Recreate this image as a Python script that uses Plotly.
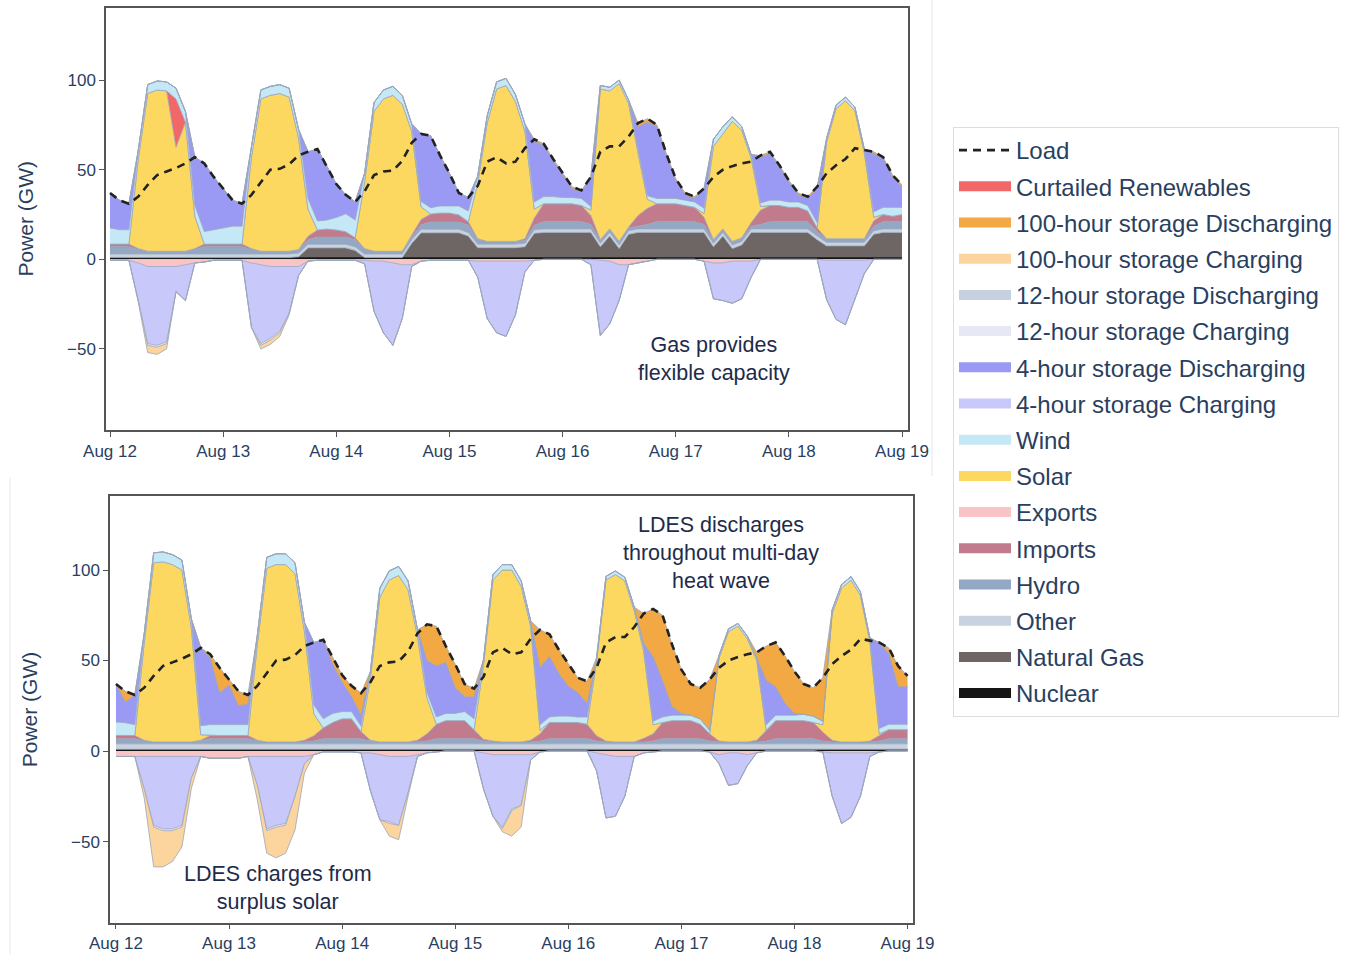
import plotly.graph_objects as go
import pandas as pd

# ---------------- time grid (2-hour steps, Aug 12 00:00 -> Aug 19 00:00) ----------------
TIMES = pd.date_range("2022-08-12 00:00", periods=85, freq="2h")

def days(*rows):
    out = []
    for r in rows:
        out.extend(r)
    return out

# ---------------- shared load (GW) ----------------
LOAD = days(
    [37, 33, 31, 35, 41.5, 47, 49, 51, 53.5, 57, 53.5, 46],
    [39.5, 33, 31, 36, 43, 50, 50.5, 53, 58, 60, 61.5, 52],
    [42, 36, 32, 38, 47, 49, 49.5, 55, 65, 70, 69, 58],
    [48, 37, 34.5, 41, 54.5, 57, 53.5, 54.5, 62, 67, 64.5, 56],
    [48, 40.5, 38.5, 46, 60, 63, 63, 68.5, 76, 78.5, 75, 59],
    [45, 37, 35, 39.5, 46, 50, 52, 53.5, 54.5, 58, 60, 52.5],
    [44, 37, 35, 40.5, 48, 52.5, 56, 62, 61, 60, 57, 47],
    [41.5])

Z12 = [0, 0, 0, 0, 0, 0, 0, 0, 0, 0, 0, 0]

# ---------------- top panel (with gas) ----------------
NUCLEAR_A = days(*[[1, 1, 1, 1, 1, 1, 1, 1, 1, 1, 1, 1]] * 7, [1])
GAS_A = days(
    [0, 0, 0, 0, 0, 0, 0, 0, 0, 0, 0, 0],
    [0, 0, 0, 0, 0, 0, 0, 0, 0.5, 5.4, 5.4, 5.4],
    [5.4, 5.4, 4, 0, 0, 0, 0, 0, 8, 13.8, 13.8, 13.8],
    [13.8, 13.8, 12, 5.5, 5.5, 5.5, 5.5, 5.5, 6, 13.5, 14, 14],
    [14, 14, 14, 14, 6, 12, 5, 13, 14, 14, 14, 14],
    [14, 14, 14, 14, 6, 12, 5, 7, 14, 14, 14, 14],
    [14, 14, 14, 10, 6.5, 6.5, 6.5, 6.5, 6.5, 13, 14, 14],
    [14])
OTHER_A = days(*[[2, 2, 2, 2, 2, 2, 2, 2, 2, 2, 2, 2]] * 7, [2])
HYDRO_A = days(*[[4, 4, 4, 2.5, 1.5, 1.5, 1.5, 1.5, 1.5, 2.5, 4, 4]] * 7, [4])
IMPORTS_A = days(
    [1.5, 1.5, 1.5, 0.5, 0, 0, 0, 0, 0, 0.5, 1.5, 1.5],
    [1.5, 1.5, 1.5, 0.5, 0, 0, 0, 0, 0.5, 2, 4, 4.5],
    [4, 3, 1, 0.5, 0, 0, 0, 0, 1, 3, 4.5, 5],
    [5, 4, 2, 0.5, 0, 0, 0, 0, 1, 4, 10, 10],
    [10, 10, 9, 5, 0.5, 0.5, 0.5, 0.5, 6, 9, 10, 10],
    [10, 9, 8, 4, 0.5, 0.5, 0.5, 0.5, 2, 8, 9, 9],
    [8, 8, 6, 2, 0.5, 0.5, 0.5, 0.5, 0.5, 3, 4, 3],
    [4])
SOLAR_A = days(
    [0, 0, 0, 50, 88, 90, 89.5, 58, 72, 18, 0, 0],
    [0, 0, 0, 51, 85, 87, 88, 86, 62, 15, 0, 0],
    [0, 0, 0, 37, 78, 85, 87, 82, 58, 7, 0, 0],
    [0, 0, 0, 31, 66, 85, 87, 78, 60, 5, 0, 0],
    [0, 0, 0, 3, 84, 77, 88, 69, 35, 5, 0, 0],
    [0, 0, 0, 2, 52, 53, 67, 60, 36, 2, 0, 0],
    [0, 0, 0, 0, 54, 72.5, 77, 71.5, 48, 2, 0, 0],
    [0])
CURTAILED_A = days([0, 0, 0, 0, 0, 0, 0, 27, 0, 0, 0, 0], *[Z12] * 6, [0])
WIND_A = days(
    [9, 8, 8, 5, 5, 5, 5, 6, 6, 6, 7, 8],
    [9, 10, 10, 6, 5, 5, 5, 5, 5, 6, 5, 5],
    [7, 10, 10, 5, 5, 5, 5, 5, 4, 3, 3.5, 4],
    [4, 5, 6, 4, 4, 4, 4, 4, 4, 4, 4, 4],
    [3.5, 3.5, 4, 2, 2, 2, 2, 2, 2, 2, 3, 3],
    [3, 3, 3, 3, 4, 4, 2.5, 2, 2, 2, 3, 3],
    [3, 3, 3, 3, 2, 2, 2, 2, 2, 3, 4, 5],
    [4])
DIS4_A = days(
    [19.5, 16.5, 14.5, 0, 0, 0, 0, 0, 0, 27, 38, 29.5],
    [22, 14.5, 12.5, 0, 0, 0, 0, 0, 0, 26.1, 40.1, 30.1],
    [18.6, 10.6, 10, 0, 0, 0, 0, 0, 0, 37.7, 40.2, 28.2],
    [18.2, 7.2, 7.5, 0, 0, 0, 0, 0, 0, 34, 28.5, 20],
    [12.5, 5, 3.5, 16.5, 0, 0, 0, 0, 12.5, 41, 40, 24],
    [10, 3, 2, 11, 0, 0, 0, 0, 0, 25.5, 26, 18.5],
    [11, 4, 4, 19, 0, 0, 0, 0, 0, 32.5, 27, 17],
    [11.5])
DIS12_A = days(*[Z12] * 7, [0])
DIS100_A = days(
    Z12, Z12, Z12,
    [0, 0, 0, 0, 0, 0, 0, 0, 0, 1, 1, 1],
    [1, 1, 1, 0, 0, 0, 0, 0, 2, 2, 1, 1],
    [1, 1, 1, 0, 0, 0, 0, 0, 0, 1, 1, 1],
    [1, 1, 1, 1, 0, 0, 0, 0, 0, 1, 1, 1],
    [1])
EXPORTS_A = days(
    [-0.5, -0.5, -0.5, -2, -4, -4, -4, -4, -3, -2, -1.5, -0.5],
    [-0.5, -0.5, -0.5, -2, -3, -4, -4, -4, -4, -1, -0.5, -0.5],
    [-0.5, -0.5, -0.5, -0.5, -1, -1, -2, -3, -3, -1, -0.5, -0.5],
    [-0.5, -0.5, -0.5, -1, -1, -1, -1, -1, -1, -0.5, 0, 0],
    [0, 0, 0, 0, -0.5, -1, -3, -3, -2, -1, 0, 0],
    [0, 0, 0, -1, -2, -2, -1, -1, -1, 0, 0, 0],
    [0, 0, 0, 0, -0.5, -0.5, -0.5, -0.5, -0.5, 0, 0, 0],
    [0])
CHG4_A = days(
    [0, 0, 0, -21, -43, -44, -42, -14, -20, 0, 0, 0],
    [0, 0, 0, -36, -44, -40, -36, -26, -5, 0, 0, 0],
    [0, 0, 0, -2, -28, -40, -46, -30, -1, 0, 0, 0],
    [0, 0, 0, -9, -32, -40, -42, -30, -6, 0, 0, 0],
    [0, 0, 0, -3, -42, -35, -20, 0, 0, 0, 0, 0],
    [0, 0, 0, 0, -20, -21, -23.5, -21, -9, 0, 0, 0],
    [0, 0, 0, 0, -22, -33, -36, -22, -7.5, 0, 0, 0],
    [0])
CHG12_A = days(
    [0, 0, 0, 0, -1, -1, -1, 0, 0, 0, 0, 0],
    [0, 0, 0, 0, -1, -1, -1, 0, 0, 0, 0, 0],
    *[Z12] * 5, [0])
CHG100_A = days(
    [0, 0, 0, -1, -4, -4, -3, 0, 0, 0, 0, 0],
    [0, 0, 0, 0, -2, -2.5, -2, -1, 0, 0, 0, 0],
    *[Z12] * 5, [0])

# ---------------- bottom panel (with LDES) ----------------
NUCLEAR_B = days(*[[1, 1, 1, 1, 1, 1, 1, 1, 1, 1, 1, 1]] * 7, [1])
GAS_B = days(*[Z12] * 7, [0])
OTHER_B = days(*[[3, 3, 3, 3, 3, 3, 3, 3, 3, 3, 3, 3]] * 7, [3])
HYDRO_B = days(*[[2.8, 2.8, 2.8, 1.5, 1, 1, 1, 1, 1, 1.5, 2.8, 2.8]] * 7, [2.8])
IMPORTS_B = days(
    [1.8, 1.8, 1.8, 0.5, 0, 0, 0, 0, 0, 0.5, 1.8, 1.8],
    [1.8, 1.8, 1.8, 0.5, 0, 0, 0, 0, 1, 3, 6, 9],
    [11, 11, 4, 0.5, 0, 0, 0, 0, 1, 4, 8, 10],
    [10, 10, 5, 1, 0.5, 0, 0, 0, 1, 4, 9, 9],
    [9, 9, 8, 3, 0.5, 0, 0, 0, 2, 4, 9, 10],
    [10, 10, 8, 4, 0.5, 0, 0, 0, 1, 6, 10, 10],
    [10, 10, 9, 5, 1, 0, 0, 0, 0.5, 3, 5, 5],
    [5])
SOLAR_B = days(
    [0, 0, 0, 54, 99, 99.5, 98, 95, 63, 3, 0, 0],
    [0, 0, 0, 53, 96, 98, 98, 93, 60, 12, 0, 0],
    [0, 0, 0, 34, 80, 89.5, 92, 84, 57, 20, 0, 0],
    [0, 0, 0, 41, 89, 95, 95, 86, 63, 2, 0, 0],
    [0, 0, 0, 41, 89, 92.5, 89, 72.5, 48, 5, 0, 0],
    [0, 0, 0, 0, 46, 61, 64, 57, 44, 0, 0, 0],
    [0, 0, 0, 4, 70, 85, 89.4, 81, 55, 1, 0, 0],
    [0])
CURTAILED_B = days(*[Z12] * 7, [0])
WIND_B = days(
    [7.5, 7, 6, 5, 5.5, 5.5, 5.5, 5.5, 5, 5, 6, 6],
    [6, 6, 6, 5, 6, 6, 6, 6, 5, 5, 5, 5],
    [4, 4, 3, 4, 5, 5, 5, 5, 4, 3, 4, 4],
    [4, 5, 6, 3, 3, 3, 3, 3, 3, 3, 3, 3.5],
    [3.5, 3, 4, 2, 2, 2, 2, 2, 2, 2, 3, 3],
    [3, 3, 3, 2, 1.5, 1.5, 1.5, 1.5, 1.5, 3, 3, 3],
    [3, 3.5, 3.5, 2, 2, 2, 2, 2, 2, 3, 3, 3],
    [3])
DIS4_B = days(
    [20.9, 11.4, 16.4, 0, 0, 0, 0, 0, 0, 43, 36.9, 17.4],
    [21.9, 10.4, 11.4, 0, 0, 0, 0, 0, 0, 34.5, 43.7, 27.2],
    [16.2, 8.2, 6.2, 0, 0, 0, 0, 0, 0, 17.5, 28.2, 28.2],
    [14.2, 8.2, 12, 0, 0, 0, 0, 0, 0, 31.8, 33.5, 23.5],
    [16.5, 13.5, 7.5, 0, 0, 0, 0, 0, 2.5, 35.5, 20.2, 4.7],
    [1, 0, 0, 0, 0, 0, 0, 0, 0, 24.5, 15.7, 6.5],
    [1, 0, 0, 0, 0, 0, 0, 0, 0, 47, 39.2, 20.7],
    [20.7])
DIS12_B = days(*[Z12] * 7, [0])
DIS100_B = days(
    [0, 6, 0, 0, 0, 0, 0, 0, 0, 0, 2, 14],
    [3, 8, 5, 0, 0, 0, 0, 0, 0, 0, 0, 4],
    [4, 6, 12, 0, 0, 0, 0, 0, 0, 20, 22, 9],
    [13, 7, 4.7, 0, 0, 0, 0, 0, 0, 20.7, 12.2, 13.2],
    [12.2, 8.2, 12.2, 0, 0, 0, 0, 0, 16.5, 26.5, 36, 34.5],
    [24.2, 17.2, 17.2, 28, 0, 0, 0, 0, 3, 19, 24.5, 26.2],
    [23.2, 16.7, 15.7, 24, 0, 0, 0, 0, 0, 0.5, 3, 11.5],
    [6])
EXPORTS_B = days(
    [-3, -3, -3, -3, -3, -3, -3, -3, -3, -3, -4, -4],
    [-4, -4, -3, -3, -3, -3, -3, -3, -3, -2, -0.5, -0.5],
    [-0.5, -0.5, -1, -1, -2, -3, -3, -3, -2, -1, -0.5, 0],
    [0, 0, 0, -1, -2, -2, -2, -2, -2, -0.5, 0, 0],
    [0, 0, 0, -1, -2, -3, -3, -3, -1, -0.5, 0, 0],
    [0, 0, 0, -0.5, -2, -1, -1, -2, -1, 0, 0, 0],
    [0, 0, 0, -0.5, -1, -1, -1, -1, -1, -0.5, 0, 0],
    [0])
CHG4_B = days(
    [0, 0, 0, -18, -38, -40, -40, -38, -12, 0, 0, 0],
    [0, 0, 0, -16, -40, -38, -37, -22, -4, 0, 0, 0],
    [0, 0, 0, -21, -36, -36, -38, -20, -1, 0, 0, 0],
    [0, 0, 0, -20, -34, -40, -30, -28, -3, 0, 0, 0],
    [0, 0, 0, -10, -35, -33, -22, 0, 0, 0, 0, 0],
    [0, 0, 0, 0, -5, -18, -17, -6, 0, 0, 0, 0],
    [0, 0, 0, 0, -24, -39, -35.6, -24, -2, 0, 0, 0],
    [0])
CHG12_B = days(
    [0, 0, 0, 0, -1, -1, -1, -1, 0, 0, 0, 0],
    [0, 0, 0, 0, -1, -1, -1, 0, 0, 0, 0, 0],
    [0, 0, 0, 0, 0, -1, 0, 0, 0, 0, 0, 0],
    [0, 0, 0, 0, 0, -1, -1, 0, 0, 0, 0, 0],
    Z12, Z12, Z12, [0])
CHG100_B = days(
    [0, 0, 0, -5, -22, -20, -17, -11, -5.6, 0, 0, 0],
    [0, 0, 0, -8, -12.5, -17, -15.5, -18.6, -5, 0, 0, 0],
    [0, 0, 0, 0, 0, -7, -8, -2, 0, 0, 0, 0],
    [0, 0, 0, 0, 0, -1.6, -14, -12, 0, 0, 0, 0],
    Z12, Z12, Z12, [0])

# ---------------- styling ----------------
COLORS = {
    "Curtailed Renewables": "#f26868",
    "100-hour storage Discharging": "#f2a944",
    "100-hour storage Charging": "#fbd49e",
    "12-hour storage Discharging": "#c6d0e0",
    "12-hour storage Charging": "#e6e8f3",
    "4-hour storage Discharging": "#9a9af4",
    "4-hour storage Charging": "#c8c8fa",
    "Wind": "#c5e8f6",
    "Solar": "#fdd860",
    "Exports": "#f8c4c6",
    "Imports": "#c27b8c",
    "Hydro": "#93a8c4",
    "Other": "#c9d2df",
    "Natural Gas": "#6e6565",
    "Nuclear": "#151515",
}
LEGEND_ORDER = ["Curtailed Renewables", "100-hour storage Discharging",
                "100-hour storage Charging", "12-hour storage Discharging",
                "12-hour storage Charging", "4-hour storage Discharging",
                "4-hour storage Charging", "Wind", "Solar", "Exports", "Imports",
                "Hydro", "Other", "Natural Gas", "Nuclear"]

PANELS = [
    dict(xa="x", ya="y",
         pos=[("Nuclear", NUCLEAR_A), ("Natural Gas", GAS_A), ("Other", OTHER_A),
              ("Hydro", HYDRO_A), ("Imports", IMPORTS_A), ("Solar", SOLAR_A),
              ("Curtailed Renewables", CURTAILED_A), ("Wind", WIND_A),
              ("4-hour storage Discharging", DIS4_A),
              ("12-hour storage Discharging", DIS12_A),
              ("100-hour storage Discharging", DIS100_A)],
         neg=[("Exports", EXPORTS_A), ("4-hour storage Charging", CHG4_A),
              ("12-hour storage Charging", CHG12_A),
              ("100-hour storage Charging", CHG100_A)]),
    dict(xa="x2", ya="y2",
         pos=[("Nuclear", NUCLEAR_B), ("Natural Gas", GAS_B), ("Other", OTHER_B),
              ("Hydro", HYDRO_B), ("Imports", IMPORTS_B), ("Solar", SOLAR_B),
              ("Curtailed Renewables", CURTAILED_B), ("Wind", WIND_B),
              ("4-hour storage Discharging", DIS4_B),
              ("12-hour storage Discharging", DIS12_B),
              ("100-hour storage Discharging", DIS100_B)],
         neg=[("Exports", EXPORTS_B), ("4-hour storage Charging", CHG4_B),
              ("12-hour storage Charging", CHG12_B),
              ("100-hour storage Charging", CHG100_B)]),
]

fig = go.Figure()
EDGE = "#9aa6bb"
for k, p in enumerate(PANELS):
    for group, series in (("pos", p["pos"]), ("neg", p["neg"])):
        for name, vals in series:
            fig.add_trace(go.Scatter(
                x=TIMES, y=vals, name=name, xaxis=p["xa"], yaxis=p["ya"],
                stackgroup=f"{group}{k}", mode="lines",
                line=dict(width=0.8, color="#151515" if name == "Nuclear" else EDGE),
                fillcolor=COLORS[name], showlegend=False, hoverinfo="skip"))
    fig.add_trace(go.Scatter(
        x=TIMES, y=LOAD, name="Load", xaxis=p["xa"], yaxis=p["ya"], mode="lines",
        line=dict(color="#222222", width=2.6, dash="8px,6px"), showlegend=False))

# legend entries
fig.add_trace(go.Scatter(x=[None], y=[None], mode="lines", name="Load",
                         legendgroup="g0",
                         line=dict(color="#222222", width=2.6, dash="8px,6px")))
for j, name in enumerate(LEGEND_ORDER):
    fig.add_trace(go.Scatter(x=[None], y=[None], mode="lines", name=name,
                             legendgroup=f"g{j+1}",
                             line=dict(color=COLORS[name], width=10)))

FONT = "Liberation Sans, Arial, Helvetica, sans-serif"
TXT = "#2a3f5f"
W, H = 1365, 954

def xax(domain, rng, ticklen=5):
    return dict(domain=domain, type="date", range=rng, tickformat="%b %d",
                dtick=86400000, tick0="2022-08-12", ticks="outside", ticklen=ticklen,
                tickcolor="#555", showline=True, mirror=True, linecolor="#555",
                linewidth=1.5, showgrid=False, zeroline=False, automargin=False,
                tickfont=dict(size=17, color=TXT, family=FONT))

def yax(domain, rng):
    return dict(domain=domain, range=rng, tickvals=[-50, 0, 50, 100], ticks="outside",
                ticklen=5, tickcolor="#555", showline=True, mirror=True,
                linecolor="#555", linewidth=1.5, showgrid=False, zeroline=False,
                automargin=False,
                tickfont=dict(size=17, color=TXT, family=FONT),
                title=dict(text="Power (GW)", font=dict(size=21, color=TXT, family=FONT),
                           standoff=28))

ANN_FONT = dict(size=21.5, color="#1e2b4a", family=FONT)

fig.update_layout(
    width=W, height=H, margin=dict(l=0, r=0, t=0, b=0, pad=0),
    paper_bgcolor="white", plot_bgcolor="white",
    font=dict(family=FONT, color=TXT),
    xaxis=xax([106 / W, 908 / W], ["2022-08-11 23:09", "2022-08-19 01:16"]),
    yaxis=yax([1 - 430 / H, 1 - 7.5 / H], [-95.2, 140.5]),
    xaxis2=dict(anchor="y2", **xax([110 / W, 912.5 / W],
                                   ["2022-08-11 22:44", "2022-08-19 01:03"], ticklen=4)),
    yaxis2=dict(anchor="x2", **yax([1 - 923 / H, 1 - 496 / H], [-95.0, 140.9])),
    legend=dict(x=953 / W, y=1 - 127 / H, xanchor="left", yanchor="top",
                bordercolor="#dddddd", borderwidth=1, bgcolor="white",
                font=dict(size=24, color=TXT, family=FONT),
                traceorder="grouped", tracegroupgap=2, itemwidth=52),
    showlegend=True,
    annotations=[
        dict(text="Gas provides<br>flexible capacity", xref="paper", yref="paper",
             x=714 / W, y=1 - 359 / H, xanchor="center", yanchor="middle",
             showarrow=False, font=ANN_FONT),
        dict(text="LDES discharges<br>throughout multi-day<br>heat wave", xref="paper",
             yref="paper", x=721 / W, y=1 - 553 / H, xanchor="center",
             yanchor="middle", showarrow=False, font=ANN_FONT),
        dict(text="LDES charges from<br>surplus solar", xref="paper", yref="paper",
             x=278 / W, y=1 - 888 / H, xanchor="center", yanchor="middle",
             showarrow=False, font=ANN_FONT),
    ],
    shapes=[
        dict(type="line", xref="paper", yref="paper", x0=932 / W, x1=932 / W,
             y0=1, y1=1 - 476 / H, line=dict(color="#e6e6e6", width=1)),
        dict(type="line", xref="paper", yref="paper", x0=10 / W, x1=10 / W,
             y0=1 - 478 / H, y1=0, line=dict(color="#e6e6e6", width=1)),
    ],
)

fig.write_html("out.html", config={"displayModeBar": False},
               post_script="document.body.style.margin='0px';"
                           "document.body.style.overflow='hidden';")
